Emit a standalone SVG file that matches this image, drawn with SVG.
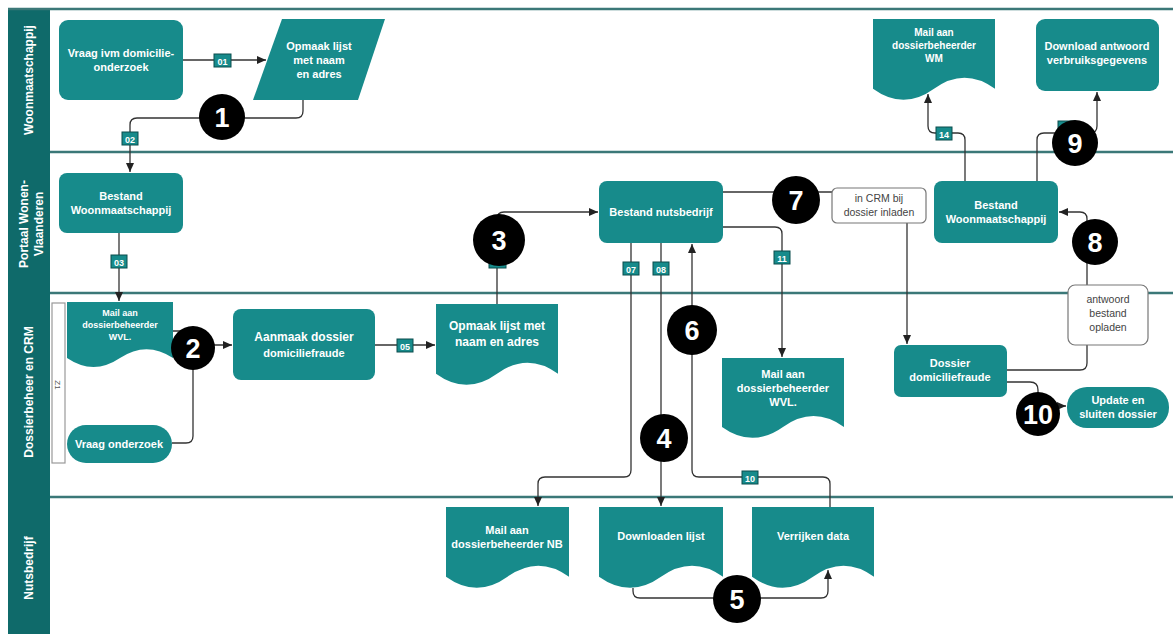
<svg xmlns="http://www.w3.org/2000/svg" width="1173" height="634" viewBox="0 0 1173 634">
<style>
.hdr{fill:#0f6a6a}
.lane{stroke:#3b7878;stroke-width:2.5;fill:none}
.lt{font-family:"Liberation Sans",Arial,sans-serif;font-size:12px;font-weight:bold;fill:#ffffff;text-anchor:middle}
.n{fill:#178b8b}
.t{font-family:"Liberation Sans",Arial,sans-serif;font-size:11px;font-weight:bold;fill:#ffffff;text-anchor:middle}
.ts{font-size:9px}
.tm{font-size:10px}
.tl{font-size:12px}
.box{fill:#ffffff;stroke:#777777;stroke-width:1.2}
.bt{font-family:"Liberation Sans",Arial,sans-serif;font-size:10.5px;fill:#444444;text-anchor:middle}
.e{fill:none;stroke:#333333;stroke-width:1.3}
.ea{fill:none;stroke:#333333;stroke-width:1.3;marker-end:url(#arr)}
.lb{fill:#178b8b;stroke:#0b4d4d;stroke-width:1}
.lbt{font-family:"Liberation Sans",Arial,sans-serif;font-size:9px;font-weight:bold;fill:#ffffff;text-anchor:middle}
.bd{fill:#000000}
.bdt{font-family:"Liberation Sans",Arial,sans-serif;font-size:27px;font-weight:bold;fill:#ffffff;text-anchor:middle}
</style>
<defs>
<marker id="arr" markerUnits="userSpaceOnUse" markerWidth="9" markerHeight="8" refX="9" refY="4" orient="auto">
<path d="M0,0 L9,4 L0,8 Z" fill="#222222"/>
</marker>
</defs>
<rect width="1173" height="634" fill="#ffffff"/>
<g id="lanes">
<rect class="hdr" x="8" y="8" width="42" height="626"/>
<line class="lane" x1="8" y1="9" x2="1173" y2="9"/>
<line class="lane" x1="50" y1="152" x2="1173" y2="152"/>
<line class="lane" x1="50" y1="293" x2="1173" y2="293"/>
<line class="lane" x1="50" y1="497" x2="1173" y2="497"/>
<text class="lt" transform="rotate(-90 29 80)" x="29" y="84">Woonmaatschappij</text>
<text class="lt" transform="rotate(-90 24 224)" x="24" y="228">Portaal Wonen-</text>
<text class="lt" transform="rotate(-90 39 224)" x="39" y="228">Vlaanderen</text>
<text class="lt" transform="rotate(-90 29 392)" x="29" y="396">Dossierbeheer en CRM</text>
<text class="lt" transform="rotate(-90 29 568)" x="29" y="572">Nutsbedrijf</text>
<rect x="52" y="303" width="13" height="160" fill="#ffffff" stroke="#999999" stroke-width="1.2"/>
<text transform="rotate(90 58 385)" x="58" y="388" font-family="Liberation Sans, Arial, sans-serif" font-size="8" fill="#555555" text-anchor="middle">Z1</text>
</g>
<g id="connectors">
<path class="ea" d="M183,60 H266"/>
<path class="ea" d="M303,100 V111 Q303,118 296,118 H137 Q130,118 130,125 V172"/>
<path class="ea" d="M119,233 V301"/>
<path class="e" d="M173,331 H186 Q193,331 193,338 V345"/>
<path class="e" d="M172,443 H186 Q193,443 193,436 V345"/>
<path class="ea" d="M193,345 H232"/>
<path class="ea" d="M375,345 H435"/>
<path class="ea" d="M497,304 V219 Q497,212 504,212 H598"/>
<path class="ea" d="M631,243 V470 Q631,477 624,477 H545 Q538,477 538,484 V506"/>
<path class="ea" d="M661,243 V506"/>
<path class="ea" d="M830,507 V484 Q830,477 823,477 H699 Q692,477 692,470 V244"/>
<path class="ea" d="M723,227 H775 Q782,227 782,234 V357"/>
<path class="e" d="M723,192 H832"/>
<path class="ea" d="M907,223 V344"/>
<path class="e" d="M1007,370 H1080 Q1087,370 1087,363 V345"/>
<path class="ea" d="M1087,285 V219 Q1087,212 1080,212 H1059"/>
<path class="ea" d="M1007,382 H1030 Q1038,382 1038,390 V406 H1066"/>
<path class="ea" d="M965,181 V140 Q965,133 958,133 H935 Q928,133 928,126 V94"/>
<path class="ea" d="M1037,181 V140 Q1037,133 1044,133 H1090 Q1097,133 1097,126 V92"/>
<path class="ea" d="M633,588 V591 Q633,598 640,598 H821 Q828,598 828,591 V570"/>
<rect class="lb" x="214" y="54" width="17" height="13"/><text class="lbt" x="222.5" y="64.5">01</text>
<rect class="lb" x="122" y="132" width="16" height="13"/><text class="lbt" x="130" y="142.5">02</text>
<rect class="lb" x="111" y="255" width="16" height="13"/><text class="lbt" x="119" y="265.5">03</text>
<rect class="lb" x="489" y="256" width="17" height="12"/>
<rect class="lb" x="397" y="339" width="16" height="13"/><text class="lbt" x="405" y="349.5">05</text>
<rect class="lb" x="623" y="262" width="16" height="13"/><text class="lbt" x="631" y="272.5">07</text>
<rect class="lb" x="653" y="262" width="16" height="13"/><text class="lbt" x="661" y="272.5">08</text>
<rect class="lb" x="774" y="251" width="16" height="13"/><text class="lbt" x="782" y="261.5">11</text>
<rect class="lb" x="742" y="471" width="16" height="13"/><text class="lbt" x="750" y="481.5">10</text>
<rect class="lb" x="936" y="127" width="16" height="13"/><text class="lbt" x="944" y="137.5">14</text>
<rect class="lb" x="1058" y="121" width="17" height="13"/>
</g>
<g id="n-vraag-ivm"><rect class="n" x="59" y="20" width="124" height="80" rx="9"/><text class="t" x="121" y="57">Vraag ivm domicilie-</text><text class="t" x="121" y="71">onderzoek</text></g>
<g id="n-opmaak-wm"><path class="n" d="M282,19 H385 L358,100 H253 Z"/><text class="t" x="319" y="50">Opmaak lijst</text><text class="t" x="319" y="64">met naam</text><text class="t" x="319" y="78">en adres</text></g>
<g id="n-bestand-wm1"><rect class="n" x="59" y="173" width="124" height="60" rx="8"/><text class="t" x="121" y="200">Bestand</text><text class="t" x="121" y="214">Woonmaatschappij</text></g>
<g id="n-mail-wvl1"><path class="n" d="M67,302 H173 V358 Q146.5,340.3 120,358 Q93.5,375.9 67,358 Z"/><text class="t ts" x="120" y="316">Mail aan</text><text class="t ts" x="120" y="328">dossierbeheerder</text><text class="t ts" x="120" y="340">WVL.</text></g>
<g id="n-vraag-onderzoek"><rect class="n" x="67" y="425" width="105" height="38" rx="19"/><text class="t" x="119" y="448">Vraag onderzoek</text></g>
<g id="n-aanmaak"><rect class="n" x="233" y="309" width="142" height="71" rx="8"/><text class="t tl" x="304" y="341">Aanmaak dossier</text><text class="t" x="304" y="357">domiciliefraude</text></g>
<g id="n-opmaak-doc"><path class="n" d="M436,304 H558 V373.7 Q527.5,351.6 497,373.7 Q466.5,395.8 436,373.7 Z"/><text class="t tl" x="497" y="330">Opmaak lijst met</text><text class="t tl" x="497" y="346">naam en adres</text></g>
<g id="n-bestand-nb"><rect class="n" x="599" y="181" width="124" height="62" rx="8"/><text class="t" x="661" y="216">Bestand nutsbedrijf</text></g>
<g id="n-crm"><rect class="box" x="832" y="188" width="94" height="35" rx="5"/><text class="bt" x="879" y="202">in CRM bij</text><text class="bt" x="879" y="216">dossier inladen</text></g>
<g id="n-bestand-wm2"><rect class="n" x="934" y="181" width="124" height="62" rx="8"/><text class="t" x="996" y="209">Bestand</text><text class="t" x="996" y="223">Woonmaatschappij</text></g>
<g id="n-mail-wm"><path class="n" d="M873,19 H995 V88.7 Q964.5,66.6 934,88.7 Q903.5,110.8 873,88.7 Z"/><text class="t tm" x="934" y="36">Mail aan</text><text class="t tm" x="934" y="49">dossierbeheerder</text><text class="t tm" x="934" y="62">WM</text></g>
<g id="n-download"><rect class="n" x="1036" y="19" width="123" height="72" rx="9"/><text class="t" x="1097" y="50">Download antwoord</text><text class="t" x="1097" y="64">verbruiksgegevens</text></g>
<g id="n-mail-wvl2"><path class="n" d="M722,358 H844 V426.9 Q813.5,405 783,426.9 Q752.5,448.7 722,426.9 Z"/><text class="t" x="783" y="378">Mail aan</text><text class="t" x="783" y="392">dossierbeheerder</text><text class="t" x="783" y="406">WVL.</text></g>
<g id="n-dossier"><rect class="n" x="894" y="345" width="113" height="52" rx="7"/><text class="t" x="950" y="367">Dossier</text><text class="t" x="950" y="381">domiciliefraude</text></g>
<g id="n-antwoord"><rect class="box" x="1068" y="285" width="80" height="60" rx="7"/><text class="bt" x="1108" y="303">antwoord</text><text class="bt" x="1108" y="317">bestand</text><text class="bt" x="1108" y="331">opladen</text></g>
<g id="n-update"><rect class="n" x="1067" y="387" width="102" height="41" rx="20"/><text class="t" x="1118" y="404">Update en</text><text class="t" x="1118" y="418">sluiten dossier</text></g>
<g id="n-mail-nb"><path class="n" d="M446,507 H569 V576.7 Q538.25,554.6 507.5,576.7 Q476.75,598.8 446,576.7 Z"/><text class="t" x="507" y="534">Mail aan</text><text class="t" x="507" y="548">dossierbeheerder NB</text></g>
<g id="n-downloaden"><path class="n" d="M599,507 H723 V576.7 Q692,554.6 661,576.7 Q630,598.8 599,576.7 Z"/><text class="t" x="661" y="540">Downloaden lijst</text></g>
<g id="n-verrijken"><path class="n" d="M752,507 H874 V576.7 Q843.5,554.6 813,576.7 Q782.5,598.8 752,576.7 Z"/><text class="t" x="813" y="540">Verrijken data</text></g>
<g id="b1"><circle class="bd" cx="222" cy="117" r="23"/><text class="bdt" x="222" y="127">1</text></g>
<g id="b2"><circle class="bd" cx="193" cy="348" r="22"/><text class="bdt" x="193" y="358">2</text></g>
<g id="b3"><circle class="bd" cx="499" cy="240" r="26"/><text class="bdt" x="499" y="250">3</text></g>
<g id="b4"><circle class="bd" cx="664" cy="438" r="24"/><text class="bdt" x="664" y="448">4</text></g>
<g id="b5"><circle class="bd" cx="737" cy="599" r="24"/><text class="bdt" x="737" y="609">5</text></g>
<g id="b6"><circle class="bd" cx="692" cy="330" r="25"/><text class="bdt" x="692" y="340">6</text></g>
<g id="b7"><circle class="bd" cx="796" cy="200" r="24"/><text class="bdt" x="796" y="210">7</text></g>
<g id="b8"><circle class="bd" cx="1095" cy="242" r="23"/><text class="bdt" x="1095" y="252">8</text></g>
<g id="b9"><circle class="bd" cx="1075" cy="143" r="23"/><text class="bdt" x="1075" y="153">9</text></g>
<g id="b10"><circle class="bd" cx="1038" cy="414" r="22"/><text class="bdt" x="1038" y="424">10</text></g>
</svg>
